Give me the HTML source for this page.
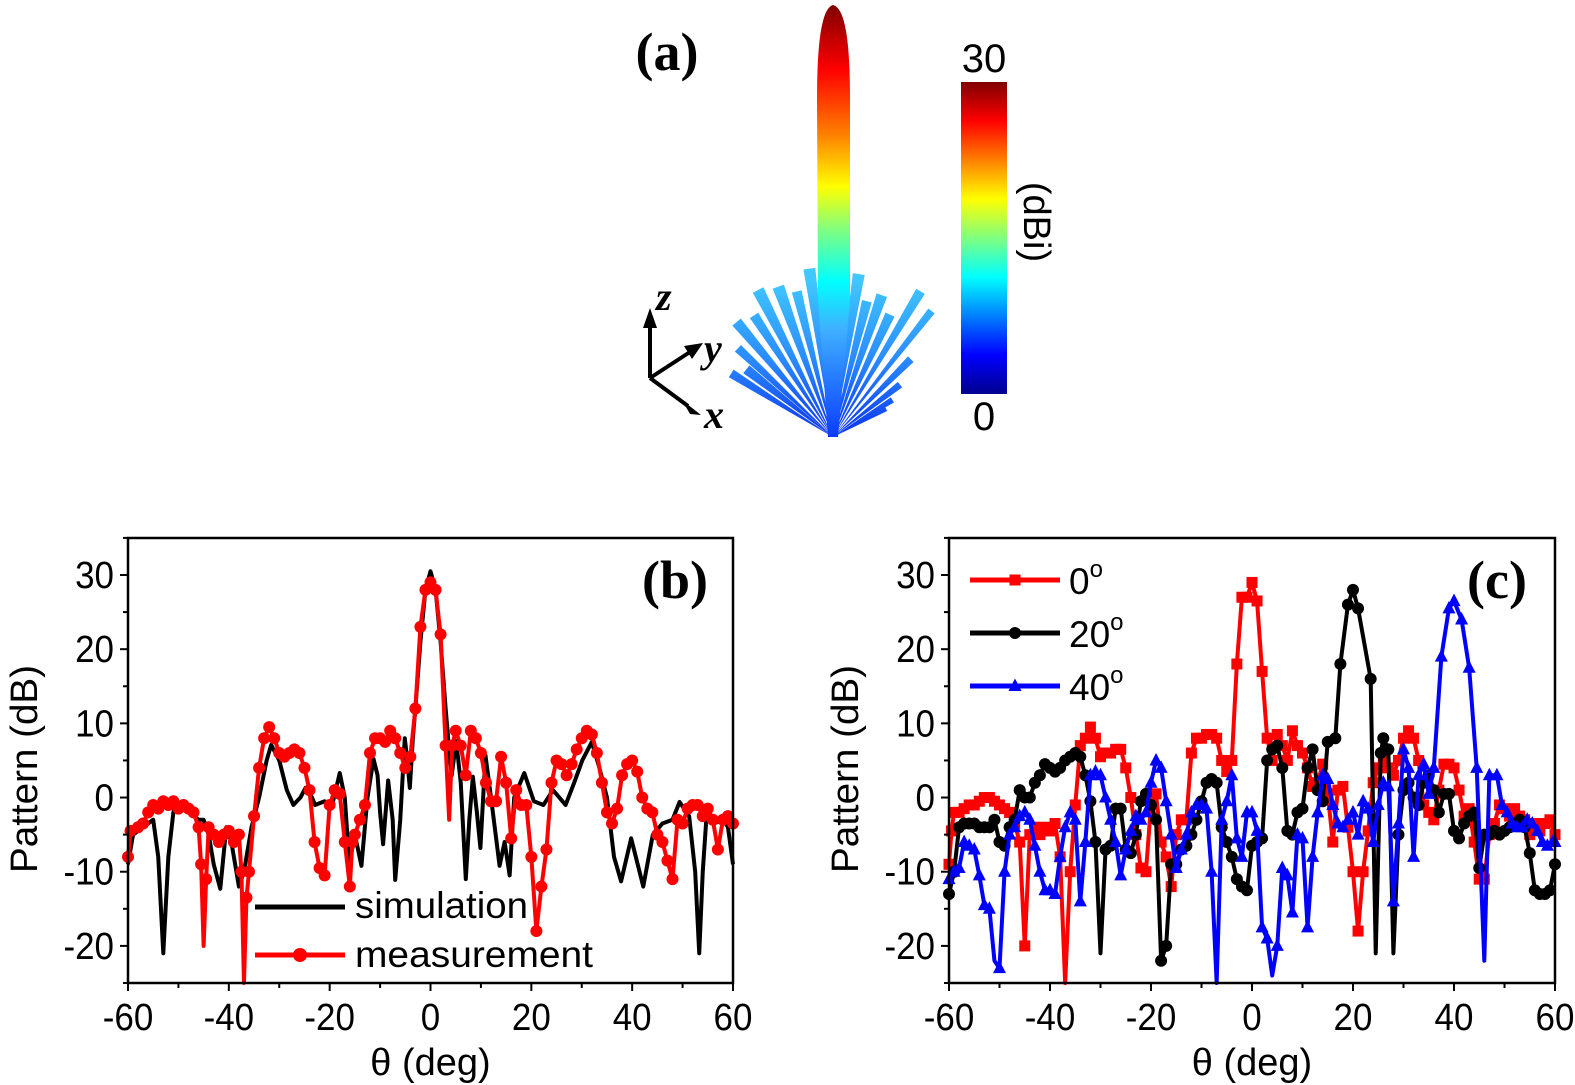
<!DOCTYPE html>
<html><head><meta charset="utf-8"><style>
html,body{margin:0;padding:0;background:#fff;}
svg{display:block;}
</style></head><body>
<svg id="s" xmlns="http://www.w3.org/2000/svg" width="1575" height="1085" viewBox="0 0 1575 1085">
<defs>
<linearGradient id="jet" x1="0" y1="0" x2="0" y2="1">
<stop offset="0" stop-color="#800000"/><stop offset="0.125" stop-color="#ff0000"/>
<stop offset="0.375" stop-color="#ffff00"/><stop offset="0.625" stop-color="#00ffff"/>
<stop offset="0.875" stop-color="#0000ff"/><stop offset="1" stop-color="#00008f"/>
</linearGradient>
<linearGradient id="beam" gradientUnits="userSpaceOnUse" x1="0" y1="5" x2="0" y2="437">
<stop offset="0" stop-color="#800000"/><stop offset="0.15" stop-color="#ff0000"/>
<stop offset="0.3" stop-color="#ff8000"/><stop offset="0.42" stop-color="#ffff00"/>
<stop offset="0.52" stop-color="#80ff80"/><stop offset="0.64" stop-color="#00ffff"/>
<stop offset="0.75" stop-color="#40b0ff"/><stop offset="1" stop-color="#0a3cff"/>
</linearGradient>
<linearGradient id="spk" gradientUnits="userSpaceOnUse" x1="0" y1="280" x2="0" y2="437">
<stop offset="0" stop-color="#40c8ff"/><stop offset="0.5" stop-color="#2a8cff"/><stop offset="1" stop-color="#0a32f0"/>
</linearGradient>
</defs>
<g id="gtop"></g>
<g id="pb"></g>
<g id="pc"></g>
</svg>
<script>
(function(){
const NS="http://www.w3.org/2000/svg";
function el(p,t,a,txt){const e=document.createElementNS(NS,t);for(const k in a)e.setAttribute(k,a[k]);if(txt!==undefined)e.textContent=txt;p.appendChild(e);return e;}
const gTop=document.getElementById('gtop');
const bx=833,by=437;
const spikes=[[-58,120,9],[-52,110,10],[-47,130,9],[-40,150,11],[-33,145,10],[-27,165,12],[-20,160,12],[-14,150,10],[-8,170,12],[-4,150,10],[4,150,10],[9,165,12],[14,140,10],[19,150,11],[25,135,10],[31,170,10],[38,160,8],[45,110,8],[52,85,7],[58,70,6],[62,60,5]];
spikes.forEach(s=>{const a=s[0]*Math.PI/180,L=s[1],w=s[2];
 const tx=bx+Math.sin(a)*L,ty=by-Math.cos(a)*L;const px=Math.cos(a)*w/2,py=Math.sin(a)*w/2;
 el(gTop,'polygon',{points:`${bx},${by} ${tx-px},${ty-py} ${tx+px},${ty+py}`,fill:'url(#spk)'});});
el(gTop,'path',{d:'M833,5 C822,8 817,40 817,100 L818,300 L828,437 L838,437 L850,300 L850,100 C850,40 845,8 833,5 Z',fill:'url(#beam)'});
el(gTop,'rect',{x:961,y:82,width:46,height:312,fill:'url(#jet)'});
el(gTop,'text',{x:984,y:72,'font-family':'Liberation Sans, sans-serif','font-size':40,'text-anchor':'middle'},'30');
el(gTop,'text',{x:984,y:430,'font-family':'Liberation Sans, sans-serif','font-size':40,'text-anchor':'middle'},'0');
el(gTop,'text',{x:0,y:0,'font-family':'Liberation Sans, sans-serif','font-size':38,'text-anchor':'middle',transform:'translate(1024,222) rotate(90)'},'(dBi)');
el(gTop,'text',{x:667,y:70,'font-family':'Liberation Serif, serif','font-size':54,'font-weight':'bold','text-anchor':'middle'},'(a)');
el(gTop,'path',{d:'M650,378 L650,325 M650,378 L690,352 M650,378 L688,406',stroke:'#000','stroke-width':4,fill:'none'});
el(gTop,'polygon',{points:'650,308 643,328 657,328',fill:'#000'});
el(gTop,'polygon',{points:'703,343 684,346 692,359',fill:'#000'});
el(gTop,'polygon',{points:'701,415 682,400 690,414',fill:'#000'});
const it={'font-family':'Liberation Serif, serif','font-size':40,'font-weight':'bold','font-style':'italic'};
el(gTop,'text',Object.assign({x:656,y:310},it),'z');
el(gTop,'text',Object.assign({x:704,y:362},it),'y');
el(gTop,'text',Object.assign({x:704,y:428},it),'x');

function marker(g,m,x,y,c){
 if(m=='c')el(g,'circle',{cx:x,cy:y,r:6,fill:c});
 else if(m=='s')el(g,'rect',{x:x-5.5,y:y-5.5,width:11,height:11,fill:c});
 else el(g,'polygon',{points:`${x},${y-7.5} ${x-6.5},${y+5} ${x+6.5},${y+5}`,fill:c});
}
function plot(g,L,R,opts){
 const T=538,B=983;
 const X=d=>L+(d+60)*(R-L)/120, Y=v=>575-(v-30)*7.418;
 const sf={'font-family':'Liberation Sans, sans-serif','font-size':38};
 opts.series.forEach(s=>{
  const pts=s.d.map(p=>[X(p[0]),Math.min(Y(p[1]),B)]);
  el(g,'polyline',{points:pts.map(p=>p.join(',')).join(' '),fill:'none',stroke:s.c,'stroke-width':4,'stroke-linejoin':'round'});
  if(s.m) s.mp.forEach(p=>{const x=X(p[0]),y=Math.min(Y(p[1]),B);marker(g,s.m,x,y,s.c);});
 });
 el(g,'rect',{x:L,y:T,width:R-L,height:B-T,fill:'none',stroke:'#000','stroke-width':2.5});
 for(let d=-60;d<=60;d+=10){const x=X(d);el(g,'line',{x1:x,y1:B,x2:x,y2:B+(d%20==0?8:5),stroke:'#000','stroke-width':2});
  if(d%20==0){const t=String(d);el(g,'text',Object.assign({x:x,y:1030,'text-anchor':'middle',textLength:(t.length*0.556-(d<0?0.223:0))*38*0.92,lengthAdjust:'spacingAndGlyphs'},sf),t);}}
 for(let v=-25;v<=35;v+=5){const y=Y(v);el(g,'line',{x1:L,y1:y,x2:L-(v%10==0?8:5),y2:y,stroke:'#000','stroke-width':2});
  if(v%10==0&&v>-25){const t=String(v);el(g,'text',Object.assign({x:L-14,y:y+13,'text-anchor':'end',textLength:(t.length*0.556-(v<0?0.223:0))*38*0.92,lengthAdjust:'spacingAndGlyphs'},sf),t);}}
 el(g,'text',Object.assign({x:(L+R)/2,y:1075,'text-anchor':'middle'},sf),'θ (deg)');
 el(g,'text',Object.assign({x:0,y:0,'text-anchor':'middle',textLength:208,lengthAdjust:'spacingAndGlyphs',transform:`translate(${L-91},769) rotate(-90)`},sf),'Pattern (dB)');
 el(g,'text',{x:R-58,y:598,'font-family':'Liberation Serif, serif','font-size':54,'font-weight':'bold','text-anchor':'middle'},opts.lab);
}
const sim=[[-60,-9],[-59,-5],[-57,-4],[-55,-3],[-54,-8],[-53,-21],[-52,-8],[-51,-2],[-50.4,-0.6],[-49,-1],[-48,-2],[-46,-3],[-45,-3],[-44,-5],[-43,-9],[-41.7,-12.3],[-40.5,-4],[-39.5,-6],[-38,-12],[-37,-10],[-35.5,-4],[-34,0],[-32.5,5],[-31.6,7.1],[-30,5],[-28.5,1],[-27.2,-1],[-25.8,0],[-24.8,1.3],[-23.5,0],[-22.9,-1],[-21,-0.5],[-19.5,-1],[-18,3.3],[-17,0],[-16.1,-9],[-15,-5],[-13.7,-9.2],[-12.5,0],[-11.3,5.2],[-10.5,3],[-10,-2],[-9.4,-6.3],[-8.4,2.3],[-7.5,-3],[-7,-11.1],[-6,-3],[-5.1,8],[-4.6,5],[-4.1,1.3],[-3.5,8],[-3,12],[-2,21],[-1,28],[0,30.5],[1,28],[2,21],[3,12],[3.5,8],[4.2,3],[5.1,7.6],[6,2],[7,-11],[7.7,-3],[8.4,2.8],[9.2,-2],[9.9,-6.8],[10.9,5.7],[12,0],[13.7,-9.2],[14.7,-6],[15.7,-10.5],[16.6,0],[18.6,3.3],[20.5,-0.5],[22.4,-1],[24.3,1],[26.8,-1],[28.5,2],[30.1,5],[32,7.5],[33.5,4],[35,0],[36.4,-8],[37.8,-11.3],[39.8,-5.5],[42.2,-12],[44.1,-5],[46,-3.5],[48,-3],[49.4,-0.6],[51.3,-2.5],[52.5,-10],[53.3,-21],[54,-10],[54.7,-3],[56.2,-3.5],[58.1,-3],[59,-4],[60,-9]];
const meas=[[-60,-8],[-59.5,-4.5],[-58,-4],[-57,-3.5],[-56,-2],[-55,-1],[-54,-1.5],[-53,-0.5],[-52,-1],[-51,-0.5],[-50,-1.5],[-49,-1],[-48,-1.5],[-47,-2],[-46,-4],[-45.5,-9],[-45,-20],[-44.5,-11],[-44,-4],[-43,-5],[-42,-6],[-41,-5],[-40,-4.5],[-39,-6],[-38,-5],[-37.5,-10],[-37,-25],[-36.5,-13.5],[-36,-10],[-35,-2.5],[-34,4],[-33,8],[-32,9.5],[-31,8],[-30,6],[-29,5.5],[-28,6],[-27,6.5],[-26,6],[-25,4],[-24,1],[-23,-6],[-22,-9.5],[-21,-10.5],[-20,-1],[-19,1],[-18,0.5],[-17,-6],[-16,-12],[-15.5,-6],[-15,-5],[-14,-3],[-13,-1],[-12,6],[-11,8],[-10,8],[-9,7.5],[-8,9],[-7,8],[-6,6],[-5,4],[-4,5.5],[-3,12],[-2,23],[-1,28],[0,29],[1,28],[2,22],[3,7],[3.7,-3],[4.3,7],[5,9],[6,7],[7,3],[8,9],[9,8],[10,6],[11,2],[12,-0.5],[13,-0.5],[14,5.5],[15,2],[16,-5.5],[17,1],[18,-1],[19,-1],[20,-8],[21,-18],[22,-12],[23,-7],[24,2],[25,5],[26,4.5],[27,3],[28,4.5],[29,6.5],[30,8],[31,9],[32,8.5],[33,6],[34,2],[35,-2],[36,-3.5],[37,-1.5],[38,3],[39,4.5],[40,5],[41,3.5],[42,0],[43,-1.5],[44,-2],[45,-5],[46,-6],[47,-8.5],[48,-11],[49,-3],[50,-3.5],[51,-1.5],[52,-1],[53,-1],[54,-2.5],[55,-1.5],[56,-3],[57,-7],[58,-3],[59,-2.5],[60,-3.5]];
const measM=meas.filter(p=>!([-45,-37,3.7].includes(p[0])));
const pb=document.getElementById('pb');
plot(pb,128,733,{lab:'(b)',series:[{d:sim,c:'#000'},{d:meas,c:'#ff0000',m:'c',mp:measM}]});
const lf={'font-family':'Liberation Sans, sans-serif','font-size':37};
el(pb,'line',{x1:255,y1:907,x2:345,y2:907,stroke:'#000','stroke-width':5});
el(pb,'text',Object.assign({x:355,y:918,textLength:173,lengthAdjust:'spacingAndGlyphs'},lf),'simulation');
el(pb,'line',{x1:255,y1:955,x2:345,y2:955,stroke:'#ff0000','stroke-width':5});
el(pb,'circle',{cx:300,cy:955,r:7,fill:'#ff0000'});
el(pb,'text',Object.assign({x:355,y:967,textLength:238,lengthAdjust:'spacingAndGlyphs'},lf),'measurement');

function seq(a){return a.map((v,i)=>[-60+i,v]);}
const r0=seq([-9,-2,-2,-1.5,-1,-1,-0.5,0,0,-0.5,-1,-1.5,-2,-3.5,-6,-20,-5,-4,-5,-4,-4.5,-3.5,-8,-25,-10,-1,7,8,9.5,8,5.5,6,6,6.5,6.5,4,0,-5,-9.5,-10,-1,0.5,-6,-8,-12,-5,-3,-3,6,8,8,8.5,8.5,8,5,3.5,5,18,27,27,29,26.5,17,8,5,8.5,7,5,9,7,6,4,1.5,2,4.5,0.5,-6,1,1.5,-4,-10,-18,-10,-4.5,2,4,5,4,3,5,8,9,8,5,-1,-2,-3,1,4.5,4.5,4,1,-2.5,-1.5,-6,-11,-11,-5,-3.5,-1,-1.5,-2.5,-1.5,-2.5,-3,-5,-3.5,-4.5,-3.5,-3,-5]);
r0.splice(1,0,[-59.5,-4.5]);
let b20=seq([-13,-10,-4,-3.5,-3.5,-3.5,-4,-4,-4,-3,-6,-6.5,-4,-3,1,0,0,2,3,4.5,4,3.5,4,5,5.5,6,5.5,3,-0.5,-6,-21,-7,-6.5,-1.5,-1.5,-7,-7.5,-5,-0.5,0.5,-1,-3,-22,-20,-9,-9,-7,-6.5,-5,-3,-0.5,2,2.5,2,-4,-6,-8,-11,-12,-12.5,-6.5,-6,-5.5,5,6.5,7,4,-4.5,-5,-2,-1.5,4,6.5,1,-0.5,7.5,8,18,26,28,28,25.5,16,5,-21,6,8,6.5,-21,-5,1,2,0,-1,2,3,1,-2,0.5,0.5,-4.5,-5.5,-3.5,-2.5,-2,-9.5,-5,-5,-4.5,-5,-4.5,-4,-3.5,-3,-4,-7.5,-12.5,-13,-13,-12.5,-9]);
b20=b20.filter(p=>p[0]<16||p[0]>28).concat([[16.5,8],[17.5,18],[19,26],[20,28],[21,25.5],[23.5,16],[24.5,-21],[25.5,6],[26,8],[27,6.5],[28,-21]]).sort((a,b)=>a[0]-b[0]);
let bl40=seq([-11,-10,-9.5,-6,-6.5,-7,-10.5,-14.5,-15,-22,-23,-10,-5,-4,-2.5,-2,-3,-6.5,-10,-12.5,-12.5,-13,-8,-4,-2,-3,-14,-6,3,3.5,3,0,-3,-6,-10.5,-7,-4.5,-2.5,-3,-2,2,5,4,-0.5,-5,-9.5,-7,-5,-2,-1,-1,-1.5,-10,-25,-3,-0.5,3,-5.5,-8,-2,-2,-4.5,-17.5,-19,-24,-20,-9.5,-10.5,-15.5,-5,-5.5,-17.5,-8,-2,3,2.5,-1,-3.5,-4,-3,-2,-5,-0.5,-1.5,-6,-1,2,1.5,-14,-3.5,6.5,4,-8,3,4.5,0.5,4]);
bl40=bl40.concat([[37.5,19],[39,25.5],[40,26.5],[41.5,24],[43,17.5],[44.5,4],[46,-22],[47,3],[48.5,3],[49.5,-1],[50.5,-2],[51.5,-3.5],[52.5,-4],[53.5,-4],[54.5,-3],[55.5,-3.5],[56.5,-4.5],[57.5,-6],[58.5,-6.5],[59.5,-6],[60,-6]]);
const nobig=a=>a.filter(p=>p[1]>-24.5);
const pc=document.getElementById('pc');
plot(pc,949,1555,{lab:'(c)',series:[
 {d:r0,c:'#ff0000',m:'s',mp:nobig(r0)},
 {d:b20,c:'#000',m:'c',mp:b20.filter(p=>p[1]>-20.5||p[0]==-18)},
 {d:bl40,c:'#0000ff',m:'t',mp:bl40.filter(p=>p[1]>-21.5||p[0]==-50)}]});
[['#ff0000','s',580,'0'],['#000','c',633,'20'],['#0000ff','t',686,'40']].forEach(l=>{
 el(pc,'line',{x1:970,y1:l[2],x2:1060,y2:l[2],stroke:l[0],'stroke-width':5});
 marker(pc,l[1],1015,l[2],l[0]);
 const t=el(pc,'text',Object.assign({x:1069,y:l[2]+14},lf),l[3]);
 el(t,'tspan',{'font-size':24,dy:-17},'o');
});
})();
</script>
</body></html>
